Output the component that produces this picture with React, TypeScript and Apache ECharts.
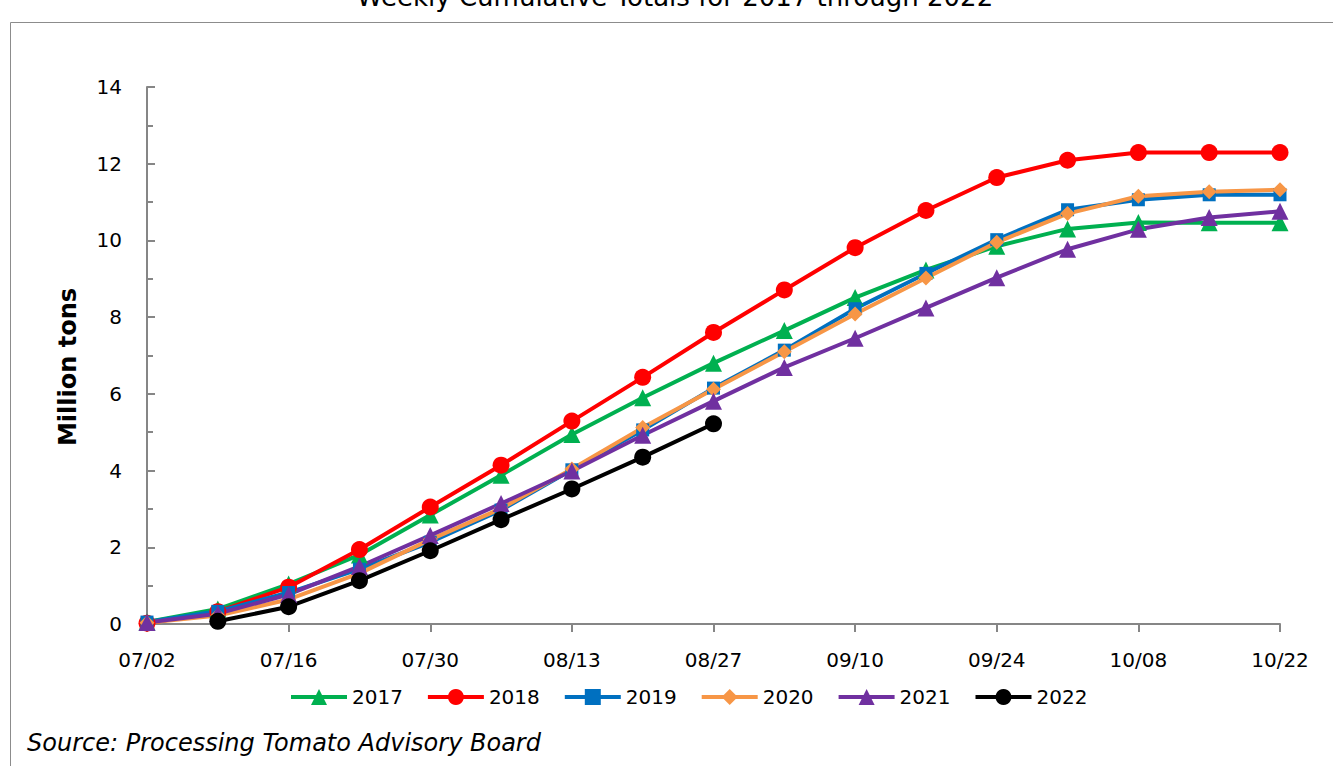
import React, { useEffect, useRef } from "react";
import * as echarts from "echarts";

const categories = ["07/02","07/09","07/16","07/23","07/30","08/06","08/13","08/20","08/27","09/03","09/10","09/17","09/24","10/01","10/08","10/15","10/22"];
const y2017 = [0.05, 0.39, 1.04, 1.80, 2.84, 3.88, 4.94, 5.90, 6.80, 7.65, 8.51, 9.23, 9.85, 10.30, 10.47, 10.46, 10.46];
const y2018 = [0.02, 0.32, 0.96, 1.94, 3.05, 4.14, 5.29, 6.43, 7.60, 8.71, 9.81, 10.78, 11.64, 12.09, 12.29, 12.29, 12.29];
const y2019 = [0.05, 0.33, 0.82, 1.43, 2.13, 2.97, 4.02, 5.06, 6.15, 7.14, 8.22, 9.14, 10.02, 10.80, 11.06, 11.19, 11.19];
const y2020 = [0.03, 0.22, 0.64, 1.32, 2.20, 3.01, 4.04, 5.12, 6.12, 7.10, 8.08, 9.02, 9.95, 10.70, 11.15, 11.27, 11.32];
const y2021 = [0.04, 0.27, 0.77, 1.50, 2.31, 3.14, 3.99, 4.92, 5.81, 6.69, 7.45, 8.24, 9.03, 9.77, 10.29, 10.60, 10.76];
const y2022 = [null, 0.07, 0.45, 1.13, 1.91, 2.72, 3.52, 4.35, 5.22, null, null, null, null, null, null, null, null];

const seriesDefs = [
  { name: "2017", data: y2017, color: "#00B050", symbol: "triangle", size: 17 },
  { name: "2018", data: y2018, color: "#FF0000", symbol: "circle", size: 17 },
  { name: "2019", data: y2019, color: "#0070C0", symbol: "rect", size: 13 },
  { name: "2020", data: y2020, color: "#F79646", symbol: "diamond", size: 15 },
  { name: "2021", data: y2021, color: "#7030A0", symbol: "triangle", size: 17 },
  { name: "2022", data: y2022, color: "#000000", symbol: "circle", size: 17 },
];

const FONT = "'DejaVu Sans', 'Liberation Sans', Arial, sans-serif";

export default function App() {
  const ref = useRef<HTMLDivElement>(null);
  useEffect(() => {
    if (!ref.current) return;
    const chart = echarts.init(ref.current, null, { renderer: "svg" });
    chart.setOption({
      animation: false,
      backgroundColor: "#ffffff",
      textStyle: { fontFamily: FONT },
      graphic: [
        {
          type: "rect",
          shape: { x: 10.5, y: 22.5, width: 1340, height: 780 },
          style: { fill: "none", stroke: "#8c8c8c", lineWidth: 1 },
          silent: true,
        },
        {
          type: "text",
          x: 675,
          y: 10,
          style: {
            text: "Weekly Cumulative Totals for 2017 through 2022",
            fontSize: 26,
            fontFamily: FONT,
            fill: "#000",
            align: "center",
            verticalAlign: "bottom",
          },
        },
        {
          type: "text",
          x: 27,
          y: 743,
          style: {
            text: "Source: Processing Tomato Advisory Board",
            fontSize: 24,
            fontStyle: "italic",
            fontFamily: FONT,
            fill: "#000",
            align: "left",
            verticalAlign: "middle",
          },
        },
        {
          type: "text",
          x: 68,
          y: 367,
          rotation: Math.PI / 2,
          style: {
            text: "Million tons",
            fontSize: 24,
            fontWeight: "bold",
            fontFamily: FONT,
            fill: "#000",
            align: "center",
            verticalAlign: "middle",
          },
        },
      ],
      grid: { left: 147, right: 53, top: 87, bottom: 142, containLabel: false },
      legend: {
        bottom: 54,
        left: 284,
        itemWidth: 56,
        itemHeight: 20,
        itemGap: 23,
        lineStyle: { width: 4 },
        textStyle: { fontSize: 20, color: "#000", fontFamily: FONT },
        data: seriesDefs.map((s) => s.name),
      },
      xAxis: {
        type: "category",
        data: categories,
        boundaryGap: false,
        axisLine: { lineStyle: { color: "#868686", width: 2 } },
        axisTick: { show: true, interval: 1, length: 8, lineStyle: { color: "#868686", width: 2 } },
        axisLabel: { interval: 1, fontSize: 20, color: "#000", margin: 26, fontFamily: FONT },
        splitLine: { show: false },
      },
      yAxis: {
        type: "value",
        min: 0,
        max: 14,
        interval: 2,
        axisLine: { show: true, lineStyle: { color: "#868686", width: 2 } },
        axisTick: { show: true, inside: true, length: 8, lineStyle: { color: "#868686", width: 2 } },
        minorTick: { show: true, splitNumber: 2, length: 6, lineStyle: { color: "#868686", width: 2 } },
        axisLabel: { fontSize: 20, color: "#000", margin: 25, fontFamily: FONT },
        splitLine: { show: false },
      },
      series: seriesDefs.map((s) => ({
        name: s.name,
        type: "line",
        data: s.data,
        symbol: s.symbol,
        symbolSize: s.size,
        connectNulls: false,
        lineStyle: { color: s.color, width: 4 },
        itemStyle: { color: s.color },
        emphasis: { disabled: true },
      })),
    });
    return () => chart.dispose();
  }, []);
  return <div ref={ref} style={{ position: "fixed", left: 0, top: 0, width: 1333, height: 766 }} />;
}
